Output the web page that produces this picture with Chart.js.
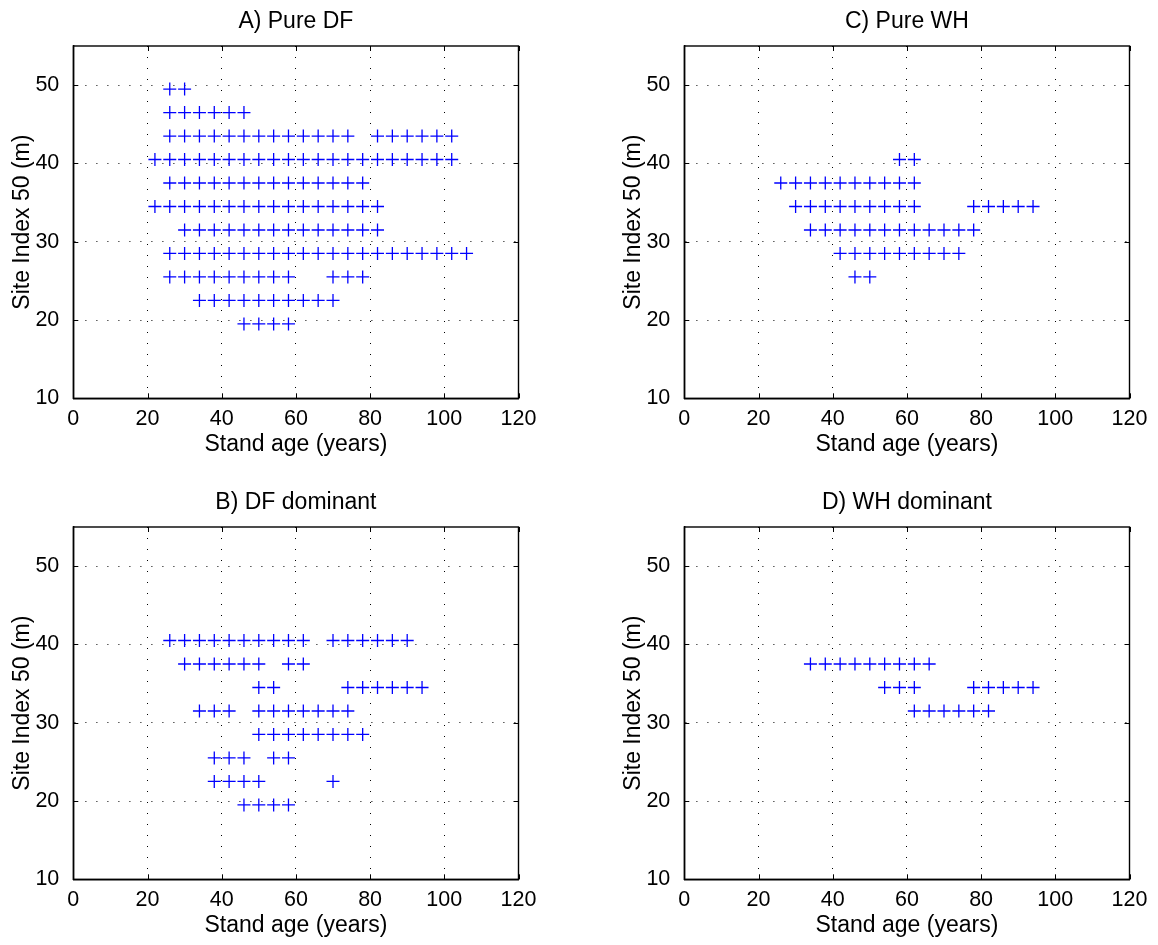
<!DOCTYPE html>
<html>
<head>
<meta charset="utf-8">
<title>Stand age vs site index</title>
<script src="https://cdn.jsdelivr.net/npm/chart.js@4.4.1/dist/chart.umd.min.js"></script>
<style>
  html, body { margin: 0; padding: 0; background: #fff; }
  #wrap { position: relative; width: 1158px; height: 945px; }
  #wrap canvas { position: absolute; }
</style>
</head>
<body>
<div id="wrap">
  <canvas id="pureDF" width="547" height="472" style="left:0;top:0"></canvas>
  <canvas id="pureWH" width="547" height="472" style="left:611px;top:0"></canvas>
  <canvas id="domDF" width="547" height="472" style="left:0;top:481px"></canvas>
  <canvas id="domWH" width="547" height="472" style="left:611px;top:481px"></canvas>
</div>
<script>
// site index classes (m), one row of plots per class
const siRows = [49.5, 46.5, 43.5, 40.5, 37.5, 34.5, 31.5, 28.5, 25.5, 22.5, 19.5];

// stand ages (years) observed in each site index class, same order as siRows
const pureDfAges = [
  [26, 30],
  [26, 30, 34, 38, 42, 46],
  [26, 30, 34, 38, 42, 46, 50, 54, 58, 62, 66, 70, 74, 82, 86, 90, 94, 98, 102],
  [22, 26, 30, 34, 38, 42, 46, 50, 54, 58, 62, 66, 70, 74, 78, 82, 86, 90, 94, 98, 102],
  [26, 30, 34, 38, 42, 46, 50, 54, 58, 62, 66, 70, 74, 78],
  [22, 26, 30, 34, 38, 42, 46, 50, 54, 58, 62, 66, 70, 74, 78, 82],
  [30, 34, 38, 42, 46, 50, 54, 58, 62, 66, 70, 74, 78, 82],
  [26, 30, 34, 38, 42, 46, 50, 54, 58, 62, 66, 70, 74, 78, 82, 86, 90, 94, 98, 102, 106],
  [26, 30, 34, 38, 42, 46, 50, 54, 58, 70, 74, 78],
  [34, 38, 42, 46, 50, 54, 58, 62, 66, 70],
  [46, 50, 54, 58]
];

const pureWhAges = [
  [],
  [],
  [],
  [58, 62],
  [26, 30, 34, 38, 42, 46, 50, 54, 58, 62],
  [30, 34, 38, 42, 46, 50, 54, 58, 62, 78, 82, 86, 90, 94],
  [34, 38, 42, 46, 50, 54, 58, 62, 66, 70, 74, 78],
  [42, 46, 50, 54, 58, 62, 66, 70, 74],
  [46, 50],
  [],
  []
];

const domDfAges = [
  [],
  [],
  [],
  [26, 30, 34, 38, 42, 46, 50, 54, 58, 62, 70, 74, 78, 82, 86, 90],
  [30, 34, 38, 42, 46, 50, 58, 62],
  [50, 54, 74, 78, 82, 86, 90, 94],
  [34, 38, 42, 50, 54, 58, 62, 66, 70, 74],
  [50, 54, 58, 62, 66, 70, 74, 78],
  [38, 42, 46, 54, 58],
  [38, 42, 46, 50, 70],
  [46, 50, 54, 58]
];

const domWhAges = [
  [],
  [],
  [],
  [],
  [34, 38, 42, 46, 50, 54, 58, 62, 66],
  [54, 58, 62, 78, 82, 86, 90, 94],
  [62, 66, 70, 74, 78, 82],
  [],
  [],
  [],
  []
];

const xTicks = [0, 20, 40, 60, 80, 100, 120];
const yTicks = [10, 20, 30, 40, 50];

const FONT = '"Liberation Sans", Arial, Helvetica, sans-serif';

function toPoints(ages) {
  const pts = [];
  ages.forEach((row, i) => {
    row.forEach(a => pts.push({ x: a, y: siRows[i] }));
  });
  return pts;
}

// box round the plot area with short inward ticks on every side
const boxPlugin = {
  id: 'box',
  afterLayout(chart) {
    // centre the title over the plot area instead of the whole canvas
    const t = chart.titleBlock;
    if (t) {
      t.left = chart.chartArea.left;
      t.right = chart.chartArea.right;
      t.width = t.right - t.left;
    }
  },
  afterDraw(chart) {
    const { ctx, chartArea: a, scales: { x, y } } = chart;
    const len = 5;
    ctx.save();
    ctx.strokeStyle = '#000';
    ctx.lineWidth = 1;
    ctx.beginPath();
    xTicks.forEach(v => {
      const px = Math.round(x.getPixelForValue(v)) + 0.5;
      ctx.moveTo(px, a.bottom); ctx.lineTo(px, a.bottom - len);
      ctx.moveTo(px, a.top); ctx.lineTo(px, a.top + len);
    });
    yTicks.forEach(v => {
      const py = Math.round(y.getPixelForValue(v)) + 0.5;
      ctx.moveTo(a.left, py); ctx.lineTo(a.left + len, py);
      ctx.moveTo(a.right, py); ctx.lineTo(a.right - len, py);
    });
    ctx.stroke();
    ctx.lineWidth = 1.4;
    ctx.strokeRect(a.left, a.top, a.right - a.left, a.bottom - a.top);
    ctx.restore();
  }
};

function makePanel(id, title, ages) {
  const ctx = document.getElementById(id).getContext('2d');
  return new Chart(ctx, {
    type: 'scatter',
    data: {
      datasets: [{
        data: toPoints(ages),
        pointStyle: 'cross',
        pointRadius: 6.5,
        pointBorderWidth: 1.3,
        borderColor: '#0000ff',
        backgroundColor: '#0000ff'
      }]
    },
    options: {
      responsive: false,
      animation: false,
      events: [],
      layout: { padding: { right: 28.5 } },
      plugins: {
        legend: { display: false },
        tooltip: { enabled: false },
        title: {
          display: true,
          text: title,
          color: '#000',
          font: { family: FONT, size: 23, weight: 'normal' },
          padding: { top: 8, bottom: 10.4 }
        }
      },
      scales: {
        x: {
          type: 'linear',
          min: 0,
          max: 120,
          afterBuildTicks: s => { s.ticks = xTicks.map(v => ({ value: v })); },
          afterFit: s => { s.height = 73.7; },
          ticks: { color: '#000', padding: 8, maxRotation: 0, font: { family: FONT, size: 21.5 } },
          grid: { color: '#000', lineWidth: 1, drawTicks: false },
          border: { display: true, color: '#000', width: 1.4, dash: [1, 10] },
          title: {
            display: true,
            text: 'Stand age (years)',
            color: '#000',
            font: { family: FONT, size: 23 },
            padding: { top: 0, bottom: 14 }
          }
        },
        y: {
          type: 'linear',
          min: 10,
          max: 55,
          afterBuildTicks: s => { s.ticks = yTicks.map(v => ({ value: v })); },
          afterFit: s => { s.width = 73.3; },
          ticks: { color: '#000', padding: 14, font: { family: FONT, size: 21.5 } },
          grid: { color: '#000', lineWidth: 1, drawTicks: false },
          border: { display: true, color: '#000', width: 1.4, dash: [1, 10] },
          title: {
            display: true,
            text: 'Site Index 50 (m)',
            color: '#000',
            font: { family: FONT, size: 23 },
            padding: { top: 9, bottom: 0 }
          }
        }
      }
    },
    plugins: [boxPlugin]
  });
}

makePanel('pureDF', 'A) Pure DF', pureDfAges);
makePanel('pureWH', 'C) Pure WH', pureWhAges);
makePanel('domDF', 'B) DF dominant', domDfAges);
makePanel('domWH', 'D) WH dominant', domWhAges);
</script>
</body>
</html>
